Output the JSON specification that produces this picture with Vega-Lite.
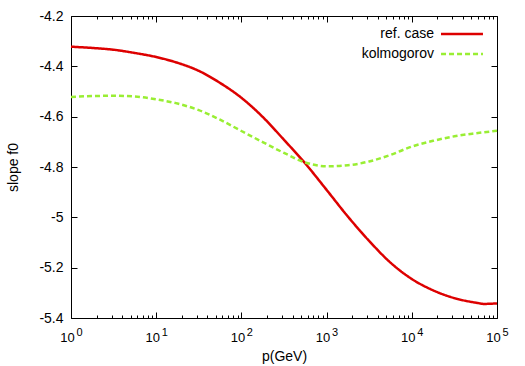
{
  "$schema": "https://vega.github.io/schema/vega-lite/v6.json",
  "width": 426,
  "height": 302,
  "autosize": {"type": "none"},
  "padding": {"left": 71, "top": 16, "right": 28, "bottom": 48},
  "config": {
    "view": {"stroke": "#000", "strokeWidth": 1},
    "font": "Liberation Sans",
    "axis": {"domain": false, "grid": false, "tickColor": "#000", "tickWidth": 1, "labelColor": "#000", "titleColor": "#000", "labelFontSize": 14, "titleFontSize": 14, "titleFontWeight": "normal", "labelFont": "Liberation Sans", "titleFont": "Liberation Sans"}
  },
  "data": {"values": [
    {"p": 1, "slope": -4.322, "series": "ref. case"},
    {"p": 1.778, "slope": -4.327, "series": "ref. case"},
    {"p": 3.162, "slope": -4.334, "series": "ref. case"},
    {"p": 5.623, "slope": -4.347, "series": "ref. case"},
    {"p": 10, "slope": -4.363, "series": "ref. case"},
    {"p": 17.78, "slope": -4.386, "series": "ref. case"},
    {"p": 31.62, "slope": -4.418, "series": "ref. case"},
    {"p": 56.23, "slope": -4.466, "series": "ref. case"},
    {"p": 100, "slope": -4.525, "series": "ref. case"},
    {"p": 177.8, "slope": -4.601, "series": "ref. case"},
    {"p": 316.2, "slope": -4.692, "series": "ref. case"},
    {"p": 562.3, "slope": -4.786, "series": "ref. case"},
    {"p": 1000, "slope": -4.891, "series": "ref. case"},
    {"p": 1778, "slope": -4.997, "series": "ref. case"},
    {"p": 3162, "slope": -5.094, "series": "ref. case"},
    {"p": 5623, "slope": -5.180, "series": "ref. case"},
    {"p": 10000, "slope": -5.245, "series": "ref. case"},
    {"p": 17783, "slope": -5.290, "series": "ref. case"},
    {"p": 31623, "slope": -5.321, "series": "ref. case"},
    {"p": 56234, "slope": -5.339, "series": "ref. case"},
    {"p": 70795, "slope": -5.344, "series": "ref. case"},
    {"p": 100000, "slope": -5.342, "series": "ref. case"},
    {"p": 1, "slope": -4.522, "series": "kolmogorov"},
    {"p": 1.778, "slope": -4.518, "series": "kolmogorov"},
    {"p": 3.162, "slope": -4.517, "series": "kolmogorov"},
    {"p": 5.623, "slope": -4.520, "series": "kolmogorov"},
    {"p": 10, "slope": -4.531, "series": "kolmogorov"},
    {"p": 17.78, "slope": -4.548, "series": "kolmogorov"},
    {"p": 31.62, "slope": -4.574, "series": "kolmogorov"},
    {"p": 56.23, "slope": -4.612, "series": "kolmogorov"},
    {"p": 100, "slope": -4.657, "series": "kolmogorov"},
    {"p": 177.8, "slope": -4.701, "series": "kolmogorov"},
    {"p": 316.2, "slope": -4.744, "series": "kolmogorov"},
    {"p": 562.3, "slope": -4.782, "series": "kolmogorov"},
    {"p": 1000, "slope": -4.797, "series": "kolmogorov"},
    {"p": 1778, "slope": -4.793, "series": "kolmogorov"},
    {"p": 3162, "slope": -4.778, "series": "kolmogorov"},
    {"p": 5623, "slope": -4.752, "series": "kolmogorov"},
    {"p": 10000, "slope": -4.719, "series": "kolmogorov"},
    {"p": 17783, "slope": -4.696, "series": "kolmogorov"},
    {"p": 31623, "slope": -4.678, "series": "kolmogorov"},
    {"p": 56234, "slope": -4.666, "series": "kolmogorov"},
    {"p": 100000, "slope": -4.656, "series": "kolmogorov"}
  ]},
  "resolve": {"axis": {"x": "independent", "y": "independent"}},
  "layer": [
    {
      "mark": {"type": "line", "interpolate": "monotone", "strokeWidth": 2.5},
      "encoding": {
        "x": {"field": "p", "type": "quantitative",
          "scale": {"type": "log", "domain": [1, 100000], "nice": false},
          "axis": {"orient": "bottom", "values": [1, 10, 100, 1000, 10000, 100000], "tickSize": -6, "labelPadding": 19, "labelFlush": false, "labelOverlap": false, "labelFontSize": 13, "labelOffset": -4,
            "labelExpr": "'10'",
            "title": "p(GeV)", "titlePadding": 5}},
        "y": {"field": "slope", "type": "quantitative",
          "scale": {"domain": [-5.4, -4.2], "nice": false, "zero": false},
          "axis": {"orient": "left", "values": [-4.2, -4.4, -4.6, -4.8, -5, -5.2, -5.4], "tickSize": -6, "labelPadding": 14, "labelOverlap": false,
            "labelExpr": "'' + datum.value", "title": "slope f0", "titlePadding": 18}},
        "color": {"field": "series", "type": "nominal",
          "scale": {"domain": ["ref. case", "kolmogorov"], "range": ["#dd0000", "#99ee33"]},
          "legend": {"title": null, "orient": "none", "legendX": 384, "legendY": 11, "symbolType": "M-4,0H4", "symbolSize": 110, "symbolStrokeWidth": 2.5, "labelAlign": "right", "labelOffset": -35, "labelFontSize": 14, "labelFont": "Liberation Sans", "labelColor": "#000", "padding": 0, "rowPadding": 6}},
        "strokeDash": {"field": "series", "type": "nominal",
          "scale": {"domain": ["ref. case", "kolmogorov"], "range": [[1, 0], [5, 3]]},
          "legend": {"title": null, "orient": "none", "legendX": 384, "legendY": 11, "symbolType": "M-4,0H4", "symbolSize": 110, "symbolStrokeWidth": 2.5, "labelAlign": "right", "labelOffset": -35, "labelFontSize": 14, "labelFont": "Liberation Sans", "labelColor": "#000", "padding": 0, "rowPadding": 6}}
      }
    },
    {
      "mark": {"type": "point", "opacity": 0},
      "encoding": {
        "x": {"field": "p", "type": "quantitative",
          "scale": {"type": "log", "domain": [1, 100000], "nice": false},
          "axis": {"orient": "bottom", "values": [2,3,4,5,6,7,8,9,20,30,40,50,60,70,80,90,200,300,400,500,600,700,800,900,2000,3000,4000,5000,6000,7000,8000,9000,20000,30000,40000,50000,60000,70000,80000,90000], "tickSize": -3, "labels": false, "title": null}},
        "y": {"field": "slope", "type": "quantitative",
          "scale": {"domain": [-5.4, -4.2], "nice": false, "zero": false},
          "axis": {"orient": "right", "values": [-4.2, -4.4, -4.6, -4.8, -5, -5.2, -5.4], "tickSize": -6, "labels": false, "title": null}}
      }
    },
    {
      "mark": {"type": "point", "opacity": 0},
      "encoding": {
        "x": {"field": "p", "type": "quantitative",
          "scale": {"type": "log", "domain": [1, 100000], "nice": false},
          "axis": {"orient": "top", "values": [1, 10, 100, 1000, 10000, 100000], "tickSize": -6, "labels": false, "title": null}},
        "y": {"field": "slope", "type": "quantitative", "axis": null}
      }
    },
    {
      "mark": {"type": "point", "opacity": 0},
      "encoding": {
        "x": {"field": "p", "type": "quantitative",
          "scale": {"type": "log", "domain": [1, 100000], "nice": false},
          "axis": {"orient": "top", "values": [2,3,4,5,6,7,8,9,20,30,40,50,60,70,80,90,200,300,400,500,600,700,800,900,2000,3000,4000,5000,6000,7000,8000,9000,20000,30000,40000,50000,60000,70000,80000,90000], "tickSize": -3, "labels": false, "title": null}},
        "y": {"field": "slope", "type": "quantitative", "axis": null}
      }
    },
    {
      "mark": {"type": "point", "opacity": 0},
      "encoding": {
        "x": {"field": "p", "type": "quantitative",
          "scale": {"type": "log", "domain": [1, 100000], "nice": false},
          "axis": {"orient": "bottom", "values": [1, 10, 100, 1000, 10000, 100000], "ticks": false, "tickSize": 0, "labelPadding": 8, "labelFlush": false, "labelOverlap": false, "labelFontSize": 11, "labelOffset": 8,
            "labelExpr": "'' + round(log(datum.value)/LN10)", "title": null}},
        "y": {"field": "slope", "type": "quantitative", "axis": null}
      }
    }
  ]
}
